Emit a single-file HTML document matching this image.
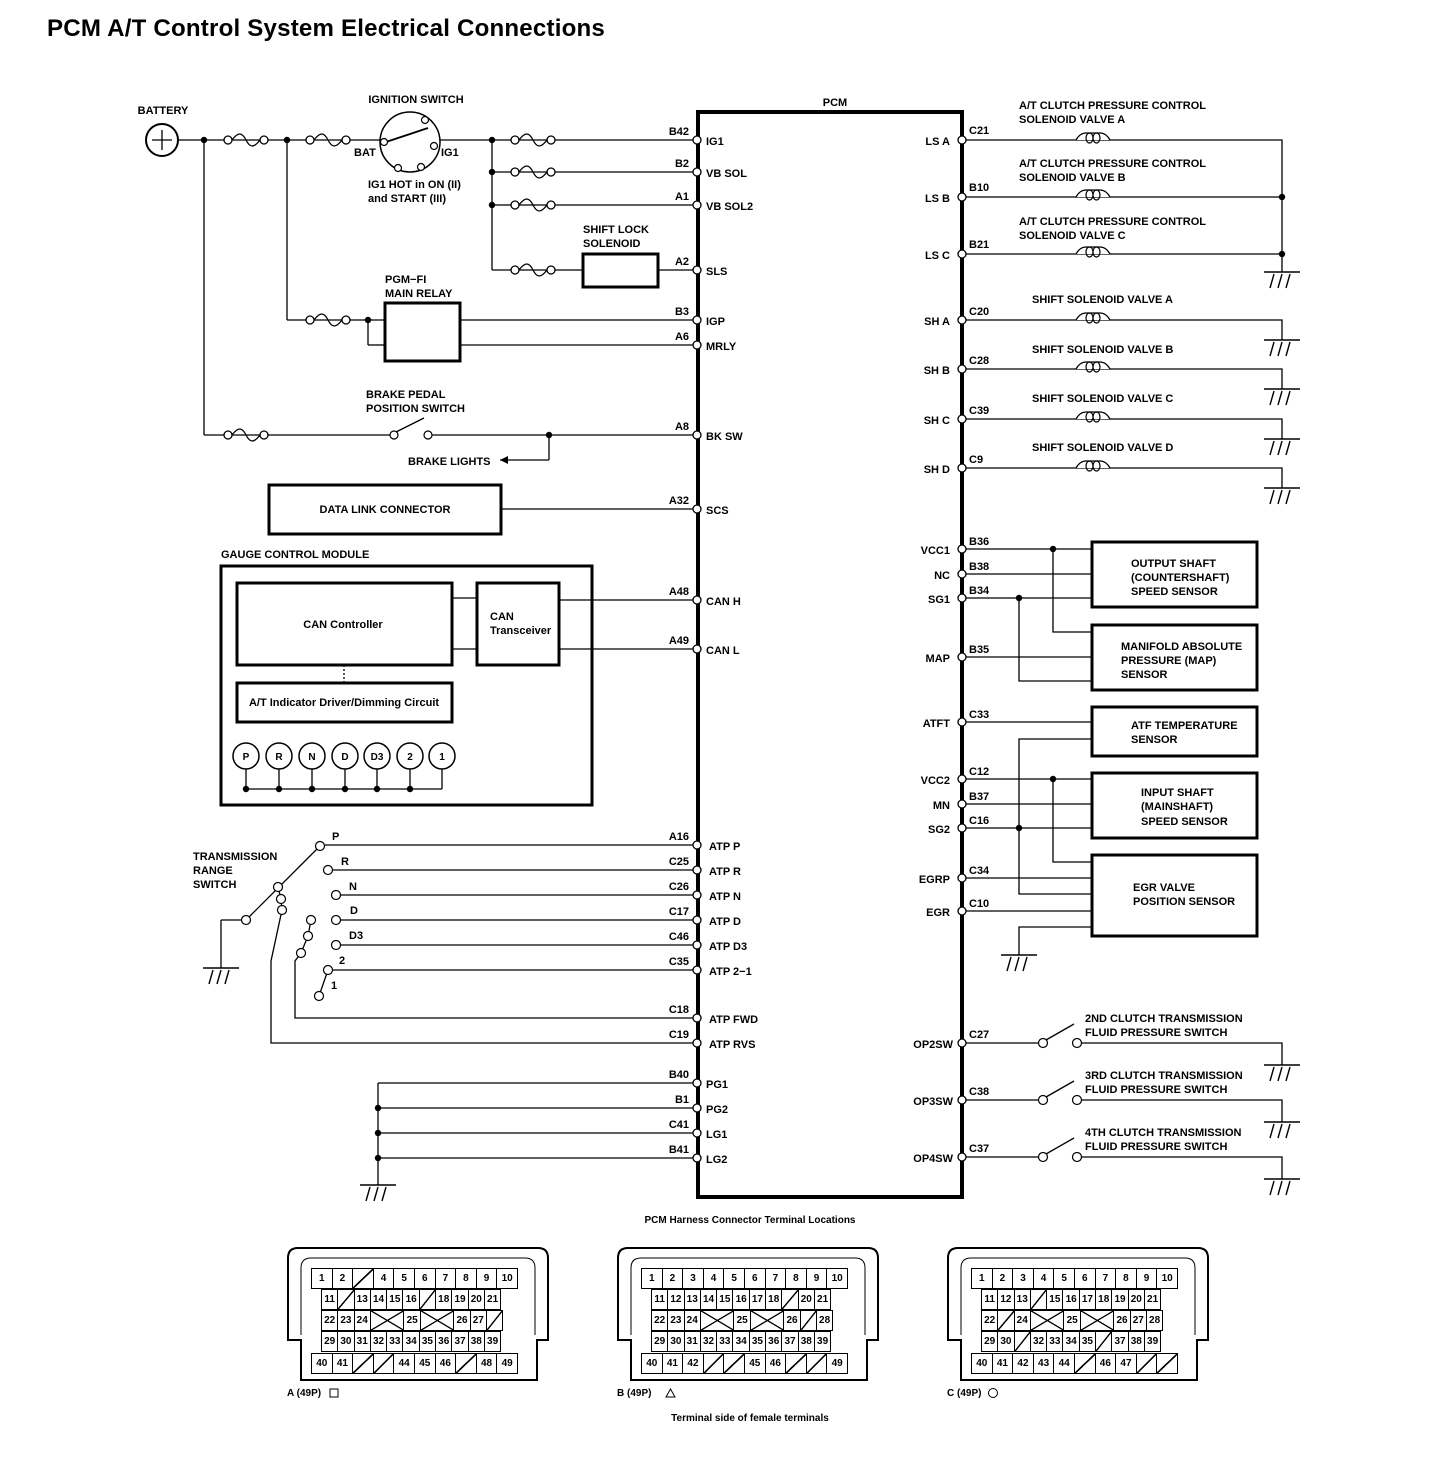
<!DOCTYPE html>
<html><head><meta charset="utf-8"><style>
body{margin:0;background:#fff;width:1456px;height:1480px;overflow:hidden;position:relative;font-family:"Liberation Sans Narrow","Liberation Sans",sans-serif}
svg{position:absolute;left:0;top:0}
svg text{font-family:"Liberation Sans Narrow","Liberation Sans",sans-serif;font-weight:bold;font-size:11px;fill:#000}
.e{text-anchor:end}.m{text-anchor:middle}
.cn{position:absolute;font:bold 10px "Liberation Sans Narrow","Liberation Sans",sans-serif}
.r{position:absolute;display:flex;height:21px}
.r div{border:1px solid #000;margin-left:-1px;box-sizing:border-box;display:flex;align-items:center;justify-content:center;height:21px;background:#fff}
.w1 div{width:21.6px}.w2 div{width:17.3px}
.r div.d{width:34.6px}
.s{background:linear-gradient(to bottom right,transparent 47%,#000 48%,#000 53%,transparent 54%) !important}
.x{background:linear-gradient(to top right,transparent 48%,#000 49%,#000 52%,transparent 53%),linear-gradient(to bottom right,transparent 48%,#000 49%,#000 52%,transparent 53%) !important}
</style></head><body>
<svg width="1456" height="1480" viewBox="0 0 1456 1480">
<defs>
<g id="fuse"><circle cx="0" cy="0" r="4" fill="#fff" stroke="#000" stroke-width="1.3"/><path d="M4,0 C10,-8 14,-8 18,0 C22,8 26,8 32,0" fill="none" stroke="#000" stroke-width="1.3"/><circle cx="36" cy="0" r="4" fill="#fff" stroke="#000" stroke-width="1.3"/></g>
<g id="coil"><path d="M0,0 Q4,-7 10,-7 H24 Q30,-7 34,0" fill="#fff" stroke="#000" stroke-width="1.3"/><ellipse cx="13.5" cy="-2" rx="3.5" ry="5" fill="none" stroke="#000" stroke-width="1.2"/><ellipse cx="20.5" cy="-2" rx="3.5" ry="5" fill="none" stroke="#000" stroke-width="1.2"/></g>
<g id="gnd" stroke="#000" stroke-width="1.4"><line x1="-18" y1="0" x2="18" y2="0"/><line x1="-8" y1="2" x2="-12" y2="16"/><line x1="0" y1="2" x2="-4" y2="16"/><line x1="8" y1="2" x2="4" y2="16"/></g>
<circle id="pin" r="4" fill="#fff" stroke="#000" stroke-width="1.3"/>
<circle id="dot" r="3.2" fill="#000"/>
</defs>
<text x="47" y="36" style="font-size:24px;font-family:'Liberation Sans',sans-serif;letter-spacing:0.2px" textLength="558" lengthAdjust="spacingAndGlyphs">PCM A/T Control System Electrical Connections</text>

<g stroke="#000" stroke-width="1.3" fill="none">
<rect x="698" y="112" width="264" height="1085" stroke-width="4"/>
<line x1="178" y1="140" x2="697" y2="140"/>
<line x1="492" y1="140" x2="492" y2="270"/>
<line x1="492" y1="172" x2="697" y2="172"/><line x1="492" y1="205" x2="697" y2="205"/>
<line x1="492" y1="270" x2="582" y2="270"/><line x1="658" y1="270" x2="697" y2="270"/>
<line x1="287" y1="140" x2="287" y2="320"/><line x1="287" y1="320" x2="384" y2="320"/>
<line x1="368" y1="320" x2="368" y2="345"/><line x1="368" y1="345" x2="384" y2="345"/>
<line x1="460" y1="320" x2="697" y2="320"/><line x1="460" y1="345" x2="697" y2="345"/>
<line x1="204" y1="140" x2="204" y2="435"/><line x1="204" y1="435" x2="394" y2="435"/>
<line x1="432" y1="435" x2="697" y2="435"/><line x1="396" y1="432" x2="424" y2="418"/>
<line x1="549" y1="435" x2="549" y2="460"/><line x1="549" y1="460" x2="500" y2="460"/>
<line x1="501" y1="509" x2="697" y2="509"/>
<circle cx="162" cy="140" r="16" stroke-width="2"/>
<line x1="152" y1="140" x2="172" y2="140"/><line x1="162" y1="130" x2="162" y2="150"/>
<circle cx="410" cy="142" r="30" fill="#fff" stroke-width="1.5"/>
<line x1="386" y1="142" x2="428" y2="128" stroke-width="1.8"/>
<rect x="583" y="254" width="75" height="33" stroke-width="3"/>
<rect x="385" y="303" width="75" height="58" stroke-width="3"/>
<rect x="269" y="485" width="232" height="49" stroke-width="3"/>
<rect x="221" y="566" width="371" height="239" stroke-width="3"/>
<rect x="237" y="583" width="215" height="82" stroke-width="3"/>
<rect x="477" y="583" width="82" height="82" stroke-width="3"/>
<rect x="237" y="683" width="215" height="39" stroke-width="3"/>
<line x1="452" y1="598" x2="477" y2="598"/><line x1="452" y1="649" x2="477" y2="649"/>
<line x1="559" y1="600" x2="697" y2="600"/><line x1="559" y1="649" x2="697" y2="649"/>
<line x1="344" y1="665" x2="344" y2="683" stroke-dasharray="2,2"/>
<line x1="246" y1="789" x2="442" y2="789"/>
<g stroke-width="1.5">
<circle cx="246" cy="756" r="13"/><circle cx="279" cy="756" r="13"/><circle cx="312" cy="756" r="13"/><circle cx="345" cy="756" r="13"/><circle cx="377" cy="756" r="13"/><circle cx="410" cy="756" r="13"/><circle cx="442" cy="756" r="13"/></g>
<path d="M246,769V789M279,769V789M312,769V789M345,769V789M377,769V789M410,769V789M442,769V789"/>
<path d="M320,845H697M328,870H697M336,895H697M336,920H697M336,945H697M328,970H697"/>
<path d="M246,920L320,846M221,920H242M221,920V968M328,970L319,996"/>
<path d="M282,910L271,961V1043H697M301,953L295,961V1018H697M311,920L308,936L301,953"/>
<path d="M278,887L281,899L282,910"/>
<path d="M378,1083V1185M378,1083H697M378,1108H697M378,1133H697M378,1158H697"/>
<path d="M962,140H1282V254M962,197H1282M962,254H1282V272"/>
<path d="M962,320H1282V340M962,369H1282V389M962,419H1282V439M962,468H1282V488"/>
<rect x="1092" y="542" width="165" height="65" stroke-width="3"/>
<rect x="1092" y="625" width="165" height="65" stroke-width="3"/>
<rect x="1092" y="707" width="165" height="49" stroke-width="3"/>
<rect x="1092" y="773" width="165" height="65" stroke-width="3"/>
<rect x="1092" y="855" width="165" height="81" stroke-width="3"/>
<path d="M962,549H1092M962,574H1092M962,598H1092M1053,549V632H1092M1019,598V681H1092M962,657H1092"/>
<path d="M962,722H1092M1092,739H1019V894H1092M962,779H1092M1053,779V862H1092M962,804H1092M962,828H1092M962,878H1092M962,911H1092M1092,927H1019V955"/>
<path d="M962,1043H1039M1081,1043H1282V1065M1046,1040L1074,1024"/>
<path d="M962,1100H1039M1081,1100H1282V1122M1046,1097L1074,1081"/>
<path d="M962,1157H1039M1081,1157H1282V1179M1046,1154L1074,1138"/>
</g>
<path d="M500,460l8,-4v8z"/>
<g fill="#fff" stroke="#000" stroke-width="1.2"><circle cx="384" cy="142" r="3.5"/><circle cx="434" cy="146" r="3.5"/><circle cx="425" cy="120" r="3.5"/><circle cx="398" cy="168" r="3.5"/><circle cx="421" cy="167" r="3.5"/>
<circle cx="394" cy="435" r="4"/><circle cx="428" cy="435" r="4"/>
<circle cx="320" cy="846" r="4.5"/><circle cx="328" cy="870" r="4.5"/><circle cx="336" cy="895" r="4.5"/><circle cx="336" cy="920" r="4.5"/><circle cx="336" cy="945" r="4.5"/><circle cx="328" cy="970" r="4.5"/><circle cx="319" cy="996" r="4.5"/>
<circle cx="246" cy="920" r="4.5"/><circle cx="278" cy="887" r="4.5"/><circle cx="281" cy="899" r="4.5"/><circle cx="282" cy="910" r="4.5"/>
<circle cx="311" cy="920" r="4.5"/><circle cx="308" cy="936" r="4.5"/><circle cx="301" cy="953" r="4.5"/>
<circle cx="1043" cy="1043" r="4.5"/><circle cx="1077" cy="1043" r="4.5"/><circle cx="1043" cy="1100" r="4.5"/><circle cx="1077" cy="1100" r="4.5"/><circle cx="1043" cy="1157" r="4.5"/><circle cx="1077" cy="1157" r="4.5"/></g>
<use href="#fuse" x="228" y="140"/><use href="#fuse" x="310" y="140"/><use href="#fuse" x="515" y="140"/><use href="#fuse" x="515" y="172"/><use href="#fuse" x="515" y="205"/><use href="#fuse" x="515" y="270"/><use href="#fuse" x="310" y="320"/><use href="#fuse" x="228" y="435"/>
<use href="#coil" x="1076" y="140"/><use href="#coil" x="1076" y="197"/><use href="#coil" x="1076" y="254"/><use href="#coil" x="1076" y="320"/><use href="#coil" x="1076" y="369"/><use href="#coil" x="1076" y="419"/><use href="#coil" x="1076" y="468"/>
<use href="#gnd" x="1282" y="272"/><use href="#gnd" x="1282" y="340"/><use href="#gnd" x="1282" y="389"/><use href="#gnd" x="1282" y="439"/><use href="#gnd" x="1282" y="488"/>
<use href="#gnd" x="1019" y="955"/><use href="#gnd" x="221" y="968"/><use href="#gnd" x="378" y="1185"/>
<use href="#gnd" x="1282" y="1065"/><use href="#gnd" x="1282" y="1122"/><use href="#gnd" x="1282" y="1179"/>
<use href="#dot" x="204" y="140"/><use href="#dot" x="287" y="140"/><use href="#dot" x="492" y="140"/><use href="#dot" x="492" y="172"/><use href="#dot" x="492" y="205"/><use href="#dot" x="368" y="320"/><use href="#dot" x="549" y="435"/>
<use href="#dot" x="246" y="789"/><use href="#dot" x="279" y="789"/><use href="#dot" x="312" y="789"/><use href="#dot" x="345" y="789"/><use href="#dot" x="377" y="789"/><use href="#dot" x="410" y="789"/>
<use href="#dot" x="378" y="1108"/><use href="#dot" x="378" y="1133"/><use href="#dot" x="378" y="1158"/>
<use href="#dot" x="1282" y="197"/><use href="#dot" x="1282" y="254"/><use href="#dot" x="1053" y="549"/><use href="#dot" x="1019" y="598"/><use href="#dot" x="1053" y="779"/><use href="#dot" x="1019" y="828"/>
<g>
<use href="#pin" x="697" y="140"/><use href="#pin" x="697" y="172"/><use href="#pin" x="697" y="205"/><use href="#pin" x="697" y="270"/><use href="#pin" x="697" y="320"/><use href="#pin" x="697" y="345"/><use href="#pin" x="697" y="435"/><use href="#pin" x="697" y="509"/><use href="#pin" x="697" y="600"/><use href="#pin" x="697" y="649"/><use href="#pin" x="697" y="845"/><use href="#pin" x="697" y="870"/><use href="#pin" x="697" y="895"/><use href="#pin" x="697" y="920"/><use href="#pin" x="697" y="945"/><use href="#pin" x="697" y="970"/><use href="#pin" x="697" y="1018"/><use href="#pin" x="697" y="1043"/><use href="#pin" x="697" y="1083"/><use href="#pin" x="697" y="1108"/><use href="#pin" x="697" y="1133"/><use href="#pin" x="697" y="1158"/>
<use href="#pin" x="962" y="140"/><use href="#pin" x="962" y="197"/><use href="#pin" x="962" y="254"/><use href="#pin" x="962" y="320"/><use href="#pin" x="962" y="369"/><use href="#pin" x="962" y="419"/><use href="#pin" x="962" y="468"/><use href="#pin" x="962" y="549"/><use href="#pin" x="962" y="574"/><use href="#pin" x="962" y="598"/><use href="#pin" x="962" y="657"/><use href="#pin" x="962" y="722"/><use href="#pin" x="962" y="779"/><use href="#pin" x="962" y="804"/><use href="#pin" x="962" y="828"/><use href="#pin" x="962" y="878"/><use href="#pin" x="962" y="911"/><use href="#pin" x="962" y="1043"/><use href="#pin" x="962" y="1100"/><use href="#pin" x="962" y="1157"/>
</g>
<text x="835" y="106" class="m">PCM</text>
<text x="163" y="114" class="m">BATTERY</text>
<text x="416" y="103" class="m">IGNITION SWITCH</text>
<text x="354" y="156">BAT</text><text x="441" y="156">IG1</text>
<text x="368" y="188">IG1 HOT in ON (II)</text><text x="368" y="202">and START (III)</text>
<text x="583" y="233">SHIFT LOCK</text><text x="583" y="247">SOLENOID</text>
<text x="385" y="283">PGM−FI</text><text x="385" y="297">MAIN RELAY</text>
<text x="366" y="398">BRAKE PEDAL</text><text x="366" y="412">POSITION SWITCH</text>
<text x="408" y="465">BRAKE LIGHTS</text>
<text x="385" y="513" class="m">DATA LINK CONNECTOR</text>
<text x="221" y="558">GAUGE CONTROL MODULE</text>
<text x="343" y="628" class="m">CAN Controller</text>
<text x="490" y="620">CAN</text><text x="490" y="634">Transceiver</text>
<text x="344" y="706" class="m">A/T Indicator Driver/Dimming Circuit</text>
<text x="246" y="760" class="m" style="font-size:10px">P</text><text x="279" y="760" class="m" style="font-size:10px">R</text><text x="312" y="760" class="m" style="font-size:10px">N</text><text x="345" y="760" class="m" style="font-size:10px">D</text><text x="377" y="760" class="m" style="font-size:10px">D3</text><text x="410" y="760" class="m" style="font-size:10px">2</text><text x="442" y="760" class="m" style="font-size:10px">1</text>
<text x="193" y="860">TRANSMISSION</text><text x="193" y="874">RANGE</text><text x="193" y="888">SWITCH</text>
<text x="332" y="840">P</text><text x="341" y="865">R</text><text x="349" y="890">N</text><text x="350" y="914">D</text><text x="349" y="939">D3</text><text x="339" y="964">2</text><text x="331" y="989">1</text>
<g>
<text x="689" y="135" class="e">B42</text><text x="689" y="167" class="e">B2</text><text x="689" y="200" class="e">A1</text><text x="689" y="265" class="e">A2</text><text x="689" y="315" class="e">B3</text><text x="689" y="340" class="e">A6</text><text x="689" y="430" class="e">A8</text><text x="689" y="504" class="e">A32</text><text x="689" y="595" class="e">A48</text><text x="689" y="644" class="e">A49</text><text x="689" y="840" class="e">A16</text><text x="689" y="865" class="e">C25</text><text x="689" y="890" class="e">C26</text><text x="689" y="915" class="e">C17</text><text x="689" y="940" class="e">C46</text><text x="689" y="965" class="e">C35</text><text x="689" y="1013" class="e">C18</text><text x="689" y="1038" class="e">C19</text><text x="689" y="1078" class="e">B40</text><text x="689" y="1103" class="e">B1</text><text x="689" y="1128" class="e">C41</text><text x="689" y="1153" class="e">B41</text>
</g>
<text x="706" y="145">IG1</text><text x="706" y="177">VB SOL</text><text x="706" y="210">VB SOL2</text><text x="706" y="275">SLS</text><text x="706" y="325">IGP</text><text x="706" y="350">MRLY</text><text x="706" y="440">BK SW</text><text x="706" y="514">SCS</text><text x="706" y="605">CAN H</text><text x="706" y="654">CAN L</text><text x="709" y="850">ATP P</text><text x="709" y="875">ATP R</text><text x="709" y="900">ATP N</text><text x="709" y="925">ATP D</text><text x="709" y="950">ATP D3</text><text x="709" y="975">ATP 2−1</text><text x="709" y="1023">ATP FWD</text><text x="709" y="1048">ATP RVS</text><text x="706" y="1088">PG1</text><text x="706" y="1113">PG2</text><text x="706" y="1138">LG1</text><text x="706" y="1163">LG2</text>
<text x="950" y="145" class="e">LS A</text><text x="950" y="202" class="e">LS B</text><text x="950" y="259" class="e">LS C</text><text x="950" y="325" class="e">SH A</text><text x="950" y="374" class="e">SH B</text><text x="950" y="424" class="e">SH C</text><text x="950" y="473" class="e">SH D</text><text x="950" y="554" class="e">VCC1</text><text x="950" y="579" class="e">NC</text><text x="950" y="603" class="e">SG1</text><text x="950" y="662" class="e">MAP</text><text x="950" y="727" class="e">ATFT</text><text x="950" y="784" class="e">VCC2</text><text x="950" y="809" class="e">MN</text><text x="950" y="833" class="e">SG2</text><text x="950" y="883" class="e">EGRP</text><text x="950" y="916" class="e">EGR</text><text x="953" y="1048" class="e">OP2SW</text><text x="953" y="1105" class="e">OP3SW</text><text x="953" y="1162" class="e">OP4SW</text>
<text x="969" y="134">C21</text><text x="969" y="191">B10</text><text x="969" y="248">B21</text><text x="969" y="315">C20</text><text x="969" y="364">C28</text><text x="969" y="414">C39</text><text x="969" y="463">C9</text><text x="969" y="545">B36</text><text x="969" y="570">B38</text><text x="969" y="594">B34</text><text x="969" y="653">B35</text><text x="969" y="718">C33</text><text x="969" y="775">C12</text><text x="969" y="800">B37</text><text x="969" y="824">C16</text><text x="969" y="874">C34</text><text x="969" y="907">C10</text><text x="969" y="1038">C27</text><text x="969" y="1095">C38</text><text x="969" y="1152">C37</text>
<text x="1019" y="109">A/T CLUTCH PRESSURE CONTROL</text><text x="1019" y="123">SOLENOID VALVE A</text>
<text x="1019" y="167">A/T CLUTCH PRESSURE CONTROL</text><text x="1019" y="181">SOLENOID VALVE B</text>
<text x="1019" y="225">A/T CLUTCH PRESSURE CONTROL</text><text x="1019" y="239">SOLENOID VALVE C</text>
<text x="1032" y="303">SHIFT SOLENOID VALVE A</text><text x="1032" y="353">SHIFT SOLENOID VALVE B</text><text x="1032" y="402">SHIFT SOLENOID VALVE C</text><text x="1032" y="451">SHIFT SOLENOID VALVE D</text>
<text x="1131" y="567">OUTPUT SHAFT</text><text x="1131" y="581">(COUNTERSHAFT)</text><text x="1131" y="595">SPEED SENSOR</text>
<text x="1121" y="650">MANIFOLD ABSOLUTE</text><text x="1121" y="664">PRESSURE (MAP)</text><text x="1121" y="678">SENSOR</text>
<text x="1131" y="729">ATF TEMPERATURE</text><text x="1131" y="743">SENSOR</text>
<text x="1141" y="796">INPUT SHAFT</text><text x="1141" y="810">(MAINSHAFT)</text><text x="1141" y="825">SPEED SENSOR</text>
<text x="1133" y="891">EGR VALVE</text><text x="1133" y="905">POSITION SENSOR</text>
<text x="1085" y="1022">2ND CLUTCH TRANSMISSION</text><text x="1085" y="1036">FLUID PRESSURE SWITCH</text>
<text x="1085" y="1079">3RD CLUTCH TRANSMISSION</text><text x="1085" y="1093">FLUID PRESSURE SWITCH</text>
<text x="1085" y="1136">4TH CLUTCH TRANSMISSION</text><text x="1085" y="1150">FLUID PRESSURE SWITCH</text>
<text x="750" y="1223" class="m" style="font-size:10px">PCM Harness Connector Terminal Locations</text>
<text x="750" y="1421" class="m" style="font-size:10px">Terminal side of female terminals</text>
<text x="287" y="1396" style="font-size:10px">A (49P)</text><rect x="330" y="1389" width="8" height="8" fill="none" stroke="#000"/>
<text x="617" y="1396" style="font-size:10px">B (49P)</text><path d="M666,1397h9l-4.5,-8z" fill="none" stroke="#000"/>
<text x="947" y="1396" style="font-size:10px">C (49P)</text><circle cx="993" cy="1393" r="4.5" fill="none" stroke="#000"/>
<g fill="none" stroke="#000" stroke-width="2">
<path d="M288,1340V1258Q288,1248 298,1248H538Q548,1248 548,1258V1340H537V1380H301V1340Z"/>
<path d="M618,1340V1258Q618,1248 628,1248H868Q878,1248 878,1258V1340H867V1380H631V1340Z"/>
<path d="M948,1340V1258Q948,1248 958,1248H1198Q1208,1248 1208,1258V1340H1197V1380H961V1340Z"/>
</g>
<g fill="none" stroke="#000" stroke-width="1">
<path d="M301,1335V1268Q301,1258 311,1258H525Q535,1258 535,1268V1335"/>
<path d="M631,1335V1268Q631,1258 641,1258H855Q865,1258 865,1268V1335"/>
<path d="M961,1335V1268Q961,1258 971,1258H1185Q1195,1258 1195,1268V1335"/>
</g>
</svg>

<div class="cn" style="left:312px;top:1268px">
<div class="r w1" style="left:0;top:0"><div>1</div><div>2</div><div class="s"></div><div>4</div><div>5</div><div>6</div><div>7</div><div>8</div><div>9</div><div>10</div></div>
<div class="r w2" style="left:10px;top:21px"><div>11</div><div class="s"></div><div>13</div><div>14</div><div>15</div><div>16</div><div class="s"></div><div>18</div><div>19</div><div>20</div><div>21</div></div>
<div class="r w2" style="left:10px;top:42px"><div>22</div><div>23</div><div>24</div><div class="d x"></div><div>25</div><div class="d x"></div><div>26</div><div>27</div><div class="s"></div></div>
<div class="r w2" style="left:10px;top:63px"><div>29</div><div>30</div><div>31</div><div>32</div><div>33</div><div>34</div><div>35</div><div>36</div><div>37</div><div>38</div><div>39</div></div>
<div class="r w1" style="left:0;top:85px"><div>40</div><div>41</div><div class="s"></div><div class="s"></div><div>44</div><div>45</div><div>46</div><div class="s"></div><div>48</div><div>49</div></div>
</div>
<div class="cn" style="left:642px;top:1268px">
<div class="r w1" style="left:0;top:0"><div>1</div><div>2</div><div>3</div><div>4</div><div>5</div><div>6</div><div>7</div><div>8</div><div>9</div><div>10</div></div>
<div class="r w2" style="left:10px;top:21px"><div>11</div><div>12</div><div>13</div><div>14</div><div>15</div><div>16</div><div>17</div><div>18</div><div class="s"></div><div>20</div><div>21</div></div>
<div class="r w2" style="left:10px;top:42px"><div>22</div><div>23</div><div>24</div><div class="d x"></div><div>25</div><div class="d x"></div><div>26</div><div class="s"></div><div>28</div></div>
<div class="r w2" style="left:10px;top:63px"><div>29</div><div>30</div><div>31</div><div>32</div><div>33</div><div>34</div><div>35</div><div>36</div><div>37</div><div>38</div><div>39</div></div>
<div class="r w1" style="left:0;top:85px"><div>40</div><div>41</div><div>42</div><div class="s"></div><div class="s"></div><div>45</div><div>46</div><div class="s"></div><div class="s"></div><div>49</div></div>
</div>
<div class="cn" style="left:972px;top:1268px">
<div class="r w1" style="left:0;top:0"><div>1</div><div>2</div><div>3</div><div>4</div><div>5</div><div>6</div><div>7</div><div>8</div><div>9</div><div>10</div></div>
<div class="r w2" style="left:10px;top:21px"><div>11</div><div>12</div><div>13</div><div class="s"></div><div>15</div><div>16</div><div>17</div><div>18</div><div>19</div><div>20</div><div>21</div></div>
<div class="r w2" style="left:10px;top:42px"><div>22</div><div class="s"></div><div>24</div><div class="d x"></div><div>25</div><div class="d x"></div><div>26</div><div>27</div><div>28</div></div>
<div class="r w2" style="left:10px;top:63px"><div>29</div><div>30</div><div class="s"></div><div>32</div><div>33</div><div>34</div><div>35</div><div class="s"></div><div>37</div><div>38</div><div>39</div></div>
<div class="r w1" style="left:0;top:85px"><div>40</div><div>41</div><div>42</div><div>43</div><div>44</div><div class="s"></div><div>46</div><div>47</div><div class="s"></div><div class="s"></div></div>
</div>
</body></html>
